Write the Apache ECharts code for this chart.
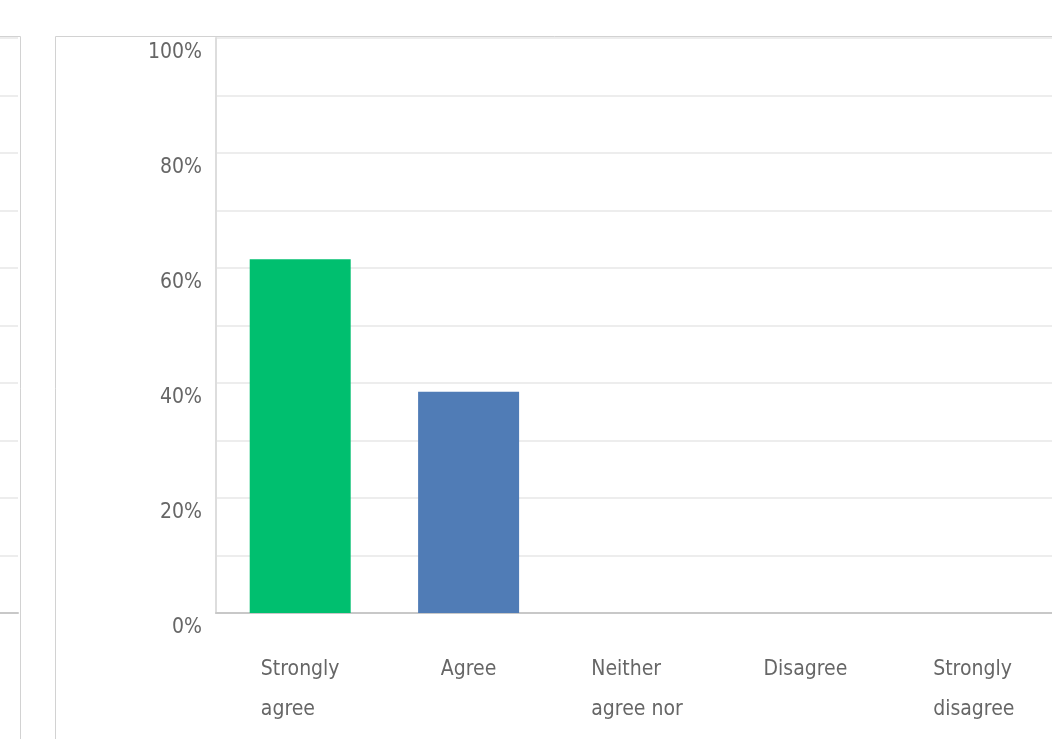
<!DOCTYPE html>
<html>
<head>
<meta charset="utf-8">
<style>
  html, body { margin: 0; padding: 0; background: #ffffff; }
  #chart { width: 1052px; height: 739px; }
</style>
<script src="https://cdn.jsdelivr.net/npm/echarts@6/dist/echarts.min.js"></script>
</head>
<body>
<div id="chart"></div>
<script>
// Answer options and share of respondents (%)
const categories = ['Strongly\nagree', 'Agree', 'Neither\nagree nor\ndisagree', 'Disagree', 'Strongly\ndisagree'];
const shares = [61.54, 38.46, 0, 0, 0];
const barColors = ['#00bf6f', '#507cb6', '#00bf6f', '#507cb6', '#00bf6f'];
const yTicks = { min: 0, max: 100, interval: 10 };
const shownTickLabels = ['0%', '20%', '40%', '60%', '80%', '100%'];

const labelFont = "'Liberation Sans Narrow', 'DejaVu Sans Condensed', 'Roboto', sans-serif";
const textGray = '#666666';
const gridGray = '#ededed';

const chart = echarts.init(document.getElementById('chart'), null, { renderer: 'canvas' });

chart.setOption({
  animation: false,
  backgroundColor: '#ffffff',
  grid: [
    { left: 216, top: 38, width: 842, bottom: 126, containLabel: false, outerBoundsMode: 'none' },
    // neighbouring panel, only its right edge is in view
    { left: -10, top: 38, width: 28, bottom: 126, containLabel: false, outerBoundsMode: 'none' }
  ],
  xAxis: [
    {
      type: 'category',
      gridIndex: 0,
      data: categories,
      axisTick: { show: false },
      axisLine: { show: true, lineStyle: { color: '#c8c8c8', width: 2 } },
      axisLabel: {
        interval: 0,
        margin: 37,
        color: textGray,
        fontFamily: labelFont,
        fontSize: 21,
        lineHeight: 40,
        formatter: v => v.split('\n').map(l => '{t|' + l + '}').join('\n'),
        rich: {
          t: { align: 'left', fontFamily: labelFont, fontSize: 21, lineHeight: 40, color: textGray }
        }
      }
    },
    {
      type: 'category',
      gridIndex: 1,
      data: [''],
      axisTick: { show: false },
      axisLabel: { show: false },
      axisLine: { show: true, lineStyle: { color: '#c8c8c8', width: 2 } }
    }
  ],
  yAxis: [
    {
      type: 'value',
      gridIndex: 0,
      min: yTicks.min,
      max: yTicks.max,
      interval: yTicks.interval,
      axisLine: { show: true, lineStyle: { color: '#dddddd', width: 2 } },
      axisTick: { show: false },
      splitLine: { show: true, lineStyle: { color: gridGray, width: 2 } },
      axisLabel: {
        margin: 14,
        color: textGray,
        fontFamily: labelFont,
        fontSize: 21,
        verticalAlign: 'top',
        padding: [4, 0, 0, 0],
        formatter: v => {
          const s = v + '%';
          return shownTickLabels.indexOf(s) >= 0 ? s : '';
        }
      }
    },
    {
      type: 'value',
      gridIndex: 1,
      min: yTicks.min,
      max: yTicks.max,
      interval: yTicks.interval,
      axisLine: { show: false },
      axisTick: { show: false },
      axisLabel: { show: false },
      splitLine: { show: true, lineStyle: { color: gridGray, width: 2 } }
    }
  ],
  series: [
    {
      type: 'bar',
      xAxisIndex: 0,
      yAxisIndex: 0,
      barWidth: 101,
      data: shares.map((v, i) => ({ value: v, itemStyle: { color: barColors[i] } })),
      label: { show: false }
    }
  ],
  graphic: [
    // panel frames
    {
      type: 'rect',
      silent: true,
      z: 100,
      shape: { x: 55.5, y: 36.5, width: 1010, height: 720 },
      style: { fill: null, stroke: '#d2d2d2', lineWidth: 1 }
    },
    {
      type: 'rect',
      silent: true,
      z: 100,
      shape: { x: -20.5, y: 36.5, width: 41, height: 720 },
      style: { fill: null, stroke: '#d2d2d2', lineWidth: 1 }
    }
  ]
});
</script>
</body>
</html>
